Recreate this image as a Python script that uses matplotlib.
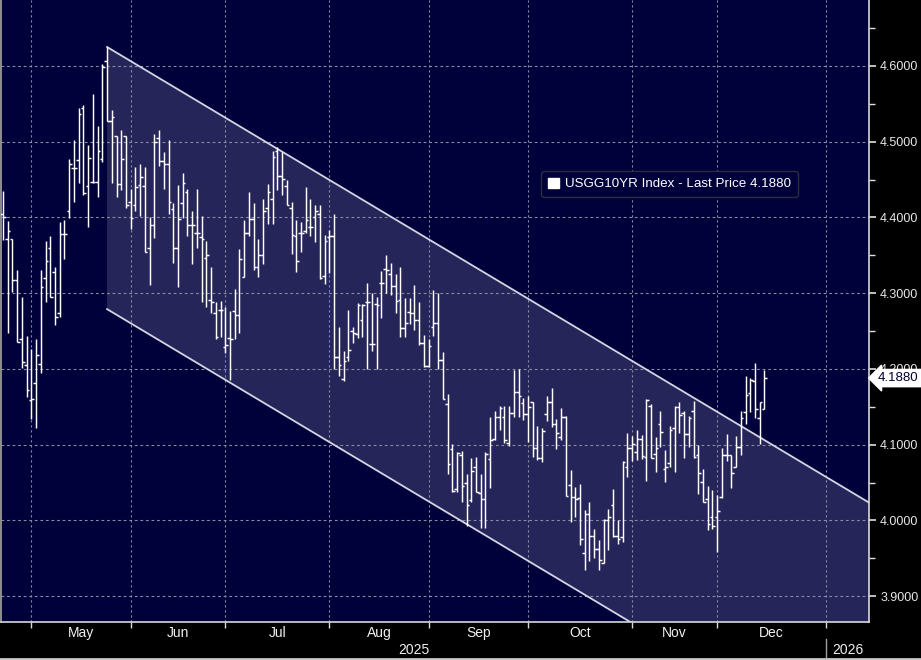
import numpy as np
import matplotlib
matplotlib.use("Agg")
import matplotlib.pyplot as plt
from matplotlib.patches import Polygon, Patch
from matplotlib.ticker import FormatStrFormatter, FixedLocator, NullFormatter, FixedFormatter
from matplotlib.transforms import blended_transform_factory, offset_copy

# ---------------- data (USGG10YR daily OHLC, 22 Apr 2025 - 12 Dec 2025) ----------------
start_date = '2025-04-22'
end_date = '2025-12-13'
holidays = ['2025-05-26', '2025-06-19', '2025-07-04', '2025-09-01',
            '2025-10-13', '2025-11-11', '2025-11-27']

opens = [4.405, 4.372, 4.372, 4.317, 4.240, 4.205, 4.159, 4.181, 4.207, 4.320,
         4.359, 4.328, 4.274, 4.378, 4.408, 4.465, 4.476, 4.544, 4.441, 4.447,
         4.447, 4.477, 4.606, 4.527, 4.508, 4.444, 4.508, 4.421, 4.416, 4.443,
         4.442, 4.360, 4.390, 4.505, 4.474, 4.470, 4.411, 4.359, 4.419, 4.434,
         4.390, 4.380, 4.374, 4.347, 4.291, 4.274, 4.278, 4.229, 4.241, 4.277,
         4.271, 4.322, 4.380, 4.398, 4.334, 4.350, 4.413, 4.424, 4.488, 4.455,
         4.441, 4.413, 4.375, 4.379, 4.382, 4.388, 4.401, 4.405, 4.323, 4.374,
         4.376, 4.216, 4.187, 4.216, 4.250, 4.246, 4.265, 4.288, 4.233, 4.286,
         4.314, 4.332, 4.325, 4.310, 4.291, 4.254, 4.275, 4.274, 4.265, 4.234,
         4.204, 4.255, 4.261, 4.212, 4.154, 4.094, 4.041, 4.087, 4.049, 4.027,
         4.071, 4.036, 4.029, 4.081, 4.107, 4.137, 4.137, 4.102, 4.142, 4.169,
         4.155, 4.140, 4.156, 4.096, 4.082, 4.141, 4.156, 4.128, 4.110, 4.137,
         4.047, 4.031, 4.030, 3.957, 4.008, 3.980, 3.963, 3.944, 4.001, 4.021,
         3.979, 3.978, 4.071, 4.096, 4.091, 4.107, 4.084, 4.151, 4.088, 4.128,
         4.068, 4.076, 4.122, 4.150, 4.142, 4.114, 4.144, 4.086, 4.051, 4.029,
         4.004, 4.004, 4.031, 4.086, 4.086, 4.071, 4.097, 4.143, 4.168, 4.184,
         4.135, 4.147]
highs = [4.435, 4.395, 4.372, 4.330, 4.295, 4.244, 4.227, 4.239, 4.331, 4.369,
         4.376, 4.334, 4.394, 4.397, 4.477, 4.502, 4.545, 4.549, 4.496, 4.563,
         4.521, 4.603, 4.625, 4.542, 4.508, 4.515, 4.508, 4.438, 4.467, 4.471,
         4.466, 4.400, 4.510, 4.515, 4.487, 4.502, 4.419, 4.443, 4.458, 4.438,
         4.408, 4.438, 4.402, 4.369, 4.334, 4.288, 4.290, 4.282, 4.277, 4.306,
         4.358, 4.397, 4.433, 4.419, 4.372, 4.424, 4.444, 4.488, 4.493, 4.486,
         4.449, 4.420, 4.396, 4.394, 4.440, 4.424, 4.417, 4.417, 4.377, 4.383,
         4.405, 4.255, 4.224, 4.278, 4.255, 4.287, 4.286, 4.314, 4.300, 4.295,
         4.329, 4.351, 4.340, 4.325, 4.335, 4.293, 4.293, 4.311, 4.288, 4.245,
         4.239, 4.304, 4.300, 4.223, 4.167, 4.101, 4.091, 4.092, 4.062, 4.082,
         4.084, 4.062, 4.090, 4.136, 4.144, 4.151, 4.151, 4.151, 4.199, 4.200,
         4.162, 4.164, 4.156, 4.125, 4.122, 4.164, 4.175, 4.134, 4.148, 4.138,
         4.066, 4.044, 4.048, 4.014, 4.024, 3.989, 3.974, 4.002, 4.015, 4.042,
         4.000, 4.079, 4.115, 4.112, 4.120, 4.113, 4.161, 4.154, 4.110, 4.145,
         4.093, 4.125, 4.151, 4.156, 4.144, 4.138, 4.158, 4.100, 4.068, 4.046,
         4.040, 4.033, 4.096, 4.114, 4.086, 4.111, 4.144, 4.191, 4.188, 4.208,
         4.156, 4.199]
lows = [4.370, 4.248, 4.302, 4.235, 4.201, 4.163, 4.134, 4.122, 4.195, 4.288,
        4.295, 4.258, 4.268, 4.345, 4.399, 4.421, 4.446, 4.429, 4.387, 4.445,
        4.427, 4.473, 4.527, 4.446, 4.427, 4.436, 4.413, 4.385, 4.408, 4.402,
        4.354, 4.311, 4.373, 4.468, 4.438, 4.405, 4.340, 4.308, 4.399, 4.376,
        4.339, 4.360, 4.288, 4.282, 4.274, 4.239, 4.242, 4.221, 4.186, 4.240,
        4.248, 4.321, 4.376, 4.331, 4.321, 4.339, 4.391, 4.391, 4.436, 4.429,
        4.416, 4.352, 4.328, 4.354, 4.380, 4.376, 4.367, 4.319, 4.312, 4.326,
        4.200, 4.191, 4.184, 4.211, 4.234, 4.241, 4.242, 4.200, 4.224, 4.200,
        4.267, 4.300, 4.298, 4.274, 4.242, 4.242, 4.260, 4.251, 4.232, 4.202,
        4.202, 4.243, 4.200, 4.161, 4.062, 4.037, 4.038, 4.024, 3.993, 4.025,
        4.037, 3.990, 3.990, 4.043, 4.106, 4.120, 4.102, 4.098, 4.136, 4.136,
        4.132, 4.104, 4.084, 4.080, 4.077, 4.131, 4.123, 4.094, 4.106, 4.032,
        3.998, 4.004, 3.968, 3.935, 3.947, 3.950, 3.935, 3.944, 3.961, 3.978,
        3.969, 3.971, 4.057, 4.079, 4.080, 4.081, 4.052, 4.083, 4.064, 4.097,
        4.051, 4.070, 4.064, 4.115, 4.083, 4.097, 4.083, 4.035, 4.024, 3.987,
        3.989, 3.958, 4.030, 4.079, 4.043, 4.071, 4.086, 4.128, 4.143, 4.135,
        4.101, 4.147]
closes = [4.400, 4.382, 4.317, 4.235, 4.209, 4.172, 4.161, 4.218, 4.308, 4.343,
          4.295, 4.269, 4.378, 4.378, 4.471, 4.465, 4.536, 4.432, 4.479, 4.447,
          4.488, 4.598, 4.527, 4.532, 4.444, 4.477, 4.417, 4.399, 4.440, 4.454,
          4.354, 4.390, 4.500, 4.474, 4.470, 4.420, 4.359, 4.398, 4.446, 4.390,
          4.390, 4.380, 4.372, 4.350, 4.289, 4.242, 4.278, 4.231, 4.239, 4.271,
          4.345, 4.380, 4.398, 4.334, 4.350, 4.409, 4.433, 4.480, 4.455, 4.451,
          4.416, 4.377, 4.343, 4.379, 4.396, 4.388, 4.409, 4.320, 4.369, 4.376,
          4.216, 4.205, 4.210, 4.225, 4.248, 4.284, 4.284, 4.288, 4.233, 4.285,
          4.314, 4.331, 4.310, 4.290, 4.254, 4.261, 4.274, 4.265, 4.234, 4.204,
          4.230, 4.261, 4.212, 4.161, 4.075, 4.039, 4.089, 4.046, 4.021, 4.065,
          4.038, 4.029, 4.088, 4.106, 4.137, 4.148, 4.106, 4.142, 4.170, 4.164,
          4.140, 4.150, 4.096, 4.082, 4.118, 4.156, 4.128, 4.116, 4.136, 4.032,
          4.031, 4.028, 3.975, 4.008, 3.980, 3.963, 3.948, 4.001, 4.004, 3.980,
          3.975, 4.077, 4.096, 4.101, 4.108, 4.085, 4.159, 4.083, 4.096, 4.117,
          4.070, 4.119, 4.150, 4.139, 4.114, 4.135, 4.084, 4.063, 4.024, 3.996,
          3.993, 4.013, 4.086, 4.086, 4.063, 4.097, 4.135, 4.165, 4.185, 4.147,
          4.156, 4.188]

# trend channel drawn on the chart
channel_start_bar = 22          # 22 May 2025 high
channel_top = 4.625
channel_bottom = 4.279
channel_slope = -0.003733       # yield per bar

yticks_major = [3.9, 4.0, 4.1, 4.2, 4.3, 4.4, 4.5, 4.6]
yticks_minor = [3.9, 3.95, 4.0, 4.05, 4.1, 4.15, 4.2, 4.25, 4.3, 4.35, 4.4,
                4.45, 4.5, 4.55, 4.6, 4.65]
month_names = ['May', 'Jun', 'Jul', 'Aug', 'Sep', 'Oct', 'Nov', 'Dec']
month_starts = ['2025-05-01', '2025-06-01', '2025-07-01', '2025-08-01', '2025-09-01',
                '2025-10-01', '2025-11-01', '2025-12-01', '2026-01-01']
legend_label = 'USGG10YR Index - Last Price 4.1880'

# ---------------- layout helpers ----------------
days = np.arange(np.datetime64(start_date), np.datetime64(end_date))
days = days[np.is_busday(days, holidays=holidays)]
future = np.arange(np.datetime64(end_date), np.datetime64('2026-01-31'))
future = future[np.is_busday(future)]
all_days = np.concatenate([days, future])
n = len(opens)
idx = np.arange(n)

# gridline sits on the last bar of the previous month
bounds = [int(np.searchsorted(all_days, np.datetime64(m))) - 1 for m in month_starts]

BG = '#00003a'
CH = '#25255a'
GRID = '#8a8aa2'
XMIN, XMAX = -0.42, 183.1
YMIN, YMAX = 3.866, 4.687

fig = plt.figure(figsize=(9.21, 6.6), dpi=100, facecolor='black')
ax = fig.add_axes([1 / 921, 38 / 660, 868 / 921, 622 / 660])
ax.set_facecolor(BG)
ax.set_xlim(XMIN, XMAX)
ax.set_ylim(YMIN, YMAX)

# channel
xs = np.array([channel_start_bar, XMAX])
up = channel_top + channel_slope * (xs - channel_start_bar)
lo = channel_bottom + channel_slope * (xs - channel_start_bar)
poly = Polygon([[xs[0], up[0]], [xs[1], up[1]], [xs[1], lo[1]], [xs[0], lo[0]]],
               closed=True, facecolor=CH, edgecolor='none', zorder=0.5)
ax.add_patch(poly)
ax.plot(xs, up, color='#d4d4e4', lw=1.3, zorder=2)
ax.plot(xs, lo, color='#d4d4e4', lw=1.3, zorder=2)

# grid
for y in yticks_major:
    ax.axhline(y, color=GRID, lw=0.8, ls=(0, (2.5, 2.5)), zorder=1)
for b in bounds:
    ax.axvline(b, color=GRID, lw=0.8, ls=(0, (2, 2.5)), zorder=1)

# OHLC bars
ax.vlines(idx, lows, highs, colors='white', lw=1.05, zorder=3)
ax.hlines(opens, idx - 0.55, idx, colors='white', lw=1.05, zorder=3)
ax.hlines(closes, idx, idx + 0.55, colors='white', lw=1.05, zorder=3)

# spines
ax.spines['top'].set_visible(False)
ax.spines['right'].set_color('#d8d8d8')
ax.spines['bottom'].set_color('#d8d8d8')
ax.spines['left'].set_color('#a8a8a8')
for s in ['right', 'bottom', 'left']:
    ax.spines[s].set_linewidth(1.2)

# y axis on the right
ax.yaxis.tick_right()
ax.yaxis.set_major_locator(FixedLocator(yticks_major))
ax.yaxis.set_minor_locator(FixedLocator(yticks_minor))
ax.yaxis.set_major_formatter(FormatStrFormatter('%.4f'))
ax.tick_params(axis='y', which='major', length=5, width=1.2, color='#e0e0e0',
               labelcolor='#e8e8e8', labelsize=9, pad=3)
ax.tick_params(axis='y', which='minor', length=4, width=1, color='#e0e0e0')
for lab in ax.get_yticklabels():
    lab.set_family(['Liberation Sans', 'DejaVu Sans'])

# x axis: month boundaries as ticks, month names centred
centers = [(bounds[i] + bounds[i + 1]) / 2 for i in range(len(month_names))]
ax.xaxis.set_major_locator(FixedLocator(bounds))
ax.xaxis.set_major_formatter(NullFormatter())
ax.xaxis.set_minor_locator(FixedLocator(centers))
ax.xaxis.set_minor_formatter(FixedFormatter(month_names))
ax.tick_params(axis='x', which='major', length=4, width=1, color='#d8d8d8')
ax.tick_params(axis='x', which='minor', length=0, labelcolor='#f0f0f0',
               labelsize=10, pad=3)
for lab in ax.get_xticklabels(minor=True):
    lab.set_family(['Liberation Sans Narrow', 'Liberation Sans', 'DejaVu Sans'])

# year row
btr = blended_transform_factory(ax.transData, fig.transFigure)
jan = bounds[-1]
yr_font = ['Liberation Sans Narrow', 'Liberation Sans', 'DejaVu Sans']
ax.text((XMIN + jan) / 2, 1 - 650 / 660, '2025', transform=btr, ha='center',
        va='center', fontsize=10, color='#f0f0f0', family=yr_font, clip_on=False)
ax.text((jan + XMAX) / 2, 1 - 650 / 660, '2026', transform=btr, ha='center',
        va='center', fontsize=10, color='#f0f0f0', family=yr_font, clip_on=False)
ax.plot([jan, jan], [1 - 639 / 660, 1 - 657 / 660], transform=btr, color='#a0a0a0',
        lw=1, clip_on=False)
fig.add_artist(plt.Line2D([0, 1], [1 - 659 / 660, 1 - 659 / 660],
                          transform=fig.transFigure, color='#c8c8c8', lw=2))

# last price tag
tr = offset_copy(ax.get_yaxis_transform(), fig=fig, x=9, y=0, units='dots')
ax.text(1.0, closes[-1], f'{closes[-1]:.4f}', transform=tr, ha='left', va='center',
        fontsize=9.5, color='#000030', family=['Liberation Sans', 'DejaVu Sans'],
        bbox=dict(boxstyle='larrow,pad=0.2', fc='white', ec='white'),
        clip_on=False, zorder=10)

# legend
leg = ax.legend(handles=[Patch(facecolor='white', edgecolor='white', label=legend_label)],
                loc='center', bbox_to_anchor=(669.5 / 921, 1 - 184 / 660),
                bbox_transform=fig.transFigure, frameon=True, facecolor=BG,
                edgecolor='#2c2c3c', framealpha=1, fancybox=True,
                prop=dict(family=['Liberation Sans', 'DejaVu Sans'], size=9.6),
                handlelength=0.85, handleheight=0.85, handletextpad=0.45,
                borderpad=0.5)
for t in leg.get_texts():
    t.set_color('white')

fig.savefig('out.png', dpi=100, facecolor='black')
